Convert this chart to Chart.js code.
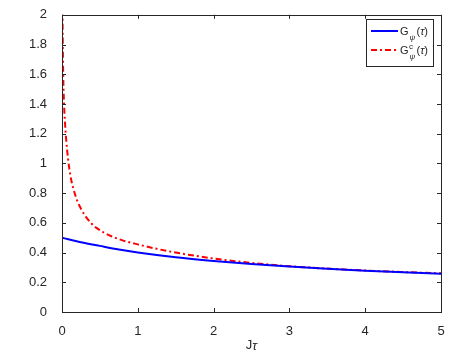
<!DOCTYPE html>
<html>
<head>
<meta charset="utf-8">
<script src="https://cdn.jsdelivr.net/npm/chart.js@4/dist/chart.umd.min.js"></script>
<style>
  body { margin: 0; background: #fff; }
  canvas { display: block; }
</style>
</head>
<body>
<canvas id="chart" width="457" height="359"></canvas>
<script>
// axis ticks
const xTicks = [0, 1, 2, 3, 4, 5];
const yTicks = [0, 0.2, 0.4, 0.6, 0.8, 1, 1.2, 1.4, 1.6, 1.8, 2];

// G_psi(tau) - blue solid
const blueX = [0, 0.25, 0.5, 0.75, 1, 1.5, 2, 2.5, 3, 3.5, 4, 4.5, 5];
const blueY = [0.5, 0.47, 0.445, 0.421, 0.401, 0.369, 0.344, 0.323, 0.306, 0.291, 0.278, 0.267, 0.257];

// G^c_psi(tau) - red dash-dot
const redX = [0.003, 0.006, 0.01, 0.016, 0.027, 0.04, 0.055, 0.08, 0.11, 0.15, 0.2, 0.25, 0.3, 0.38, 0.45, 0.55, 0.65, 0.8, 1, 1.25, 1.5, 2, 2.5, 3, 3.5, 4, 4.5, 5];
const redY = [2.6, 2.1, 1.82, 1.6, 1.4, 1.27, 1.16, 1.03, 0.92, 0.83, 0.75, 0.695, 0.652, 0.6, 0.568, 0.535, 0.51, 0.482, 0.455, 0.425, 0.4, 0.36, 0.33, 0.308, 0.292, 0.279, 0.269, 0.26];

const axisColor = '#262626';
const fontFamily = '"Liberation Sans", Arial, sans-serif';

function toPoints(xs, ys) {
  return xs.map((x, i) => ({ x: x, y: ys[i] }));
}

// box around plot with inward ticks, like matlab
const boxPlugin = {
  id: 'box',
  afterDatasetsDraw(chart) {
    const ctx = chart.ctx;
    const a = chart.chartArea;
    const sx = chart.scales.x;
    const sy = chart.scales.y;
    ctx.save();
    ctx.strokeStyle = axisColor;
    ctx.lineWidth = 1;
    ctx.beginPath();
    xTicks.forEach(v => {
      const px = Math.round(sx.getPixelForValue(v)) + 0.5;
      ctx.moveTo(px, a.bottom); ctx.lineTo(px, a.bottom - 4);
      ctx.moveTo(px, a.top); ctx.lineTo(px, a.top + 4);
    });
    yTicks.forEach(v => {
      const py = Math.round(sy.getPixelForValue(v)) + 0.5;
      ctx.moveTo(a.left, py); ctx.lineTo(a.left + 4, py);
      ctx.moveTo(a.right, py); ctx.lineTo(a.right - 4, py);
    });
    ctx.stroke();
    ctx.strokeRect(Math.round(a.left) + 0.5, Math.round(a.top) + 0.5,
      Math.round(a.right - a.left), Math.round(a.bottom - a.top));

    // x axis label
    ctx.fillStyle = axisColor;
    ctx.textBaseline = 'middle';
    ctx.font = '13px ' + fontFamily;
    const cx = (a.left + a.right) / 2;
    const wJ = ctx.measureText('J').width;
    ctx.font = 'italic 13px ' + fontFamily;
    const wT = ctx.measureText('τ').width;
    let lx = cx - (wJ + wT) / 2;
    ctx.font = '13px ' + fontFamily;
    ctx.textAlign = 'left';
    ctx.fillText('J', lx, 345);
    ctx.font = 'italic 13px ' + fontFamily;
    ctx.fillText('τ', lx + wJ, 346);

    // legend
    const lgX = 366, lgY = 19, lgW = 67, lgH = 47;
    ctx.fillStyle = '#fff';
    ctx.fillRect(lgX, lgY, lgW, lgH);
    ctx.strokeStyle = axisColor;
    ctx.strokeRect(lgX + 0.5, lgY + 0.5, lgW, lgH);
    const rows = [
      { ds: chart.data.datasets[0], y: lgY + 12, sup: '' },
      { ds: chart.data.datasets[1], y: lgY + 31, sup: 'c' }
    ];
    rows.forEach(r => {
      ctx.strokeStyle = r.ds.borderColor;
      ctx.lineWidth = 2;
      ctx.setLineDash(r.ds.borderDash || []);
      ctx.beginPath();
      ctx.moveTo(lgX + 5, r.y);
      ctx.lineTo(lgX + 32, r.y);
      ctx.stroke();
      ctx.setLineDash([]);
      ctx.fillStyle = axisColor;
      ctx.textBaseline = 'alphabetic';
      let tx = lgX + 34;
      ctx.font = '11px ' + fontFamily;
      ctx.fillText('G', tx, r.y + 4);
      tx += ctx.measureText('G').width;
      if (r.sup) {
        ctx.font = '8px ' + fontFamily;
        ctx.fillText(r.sup, tx + 0.5, r.y - 1);
      }
      ctx.font = 'italic 8px ' + fontFamily;
      ctx.fillText('ψ', tx + 1, r.y + 9);
      tx += 8;
      ctx.font = '11px ' + fontFamily;
      ctx.fillText('(', tx, r.y + 4);
      tx += ctx.measureText('(').width;
      ctx.font = 'italic 11px ' + fontFamily;
      ctx.fillText('τ', tx, r.y + 4);
      tx += ctx.measureText('τ').width;
      ctx.font = '11px ' + fontFamily;
      ctx.fillText(')', tx, r.y + 4);
    });
    ctx.restore();
  }
};

const ctx = document.getElementById('chart').getContext('2d');
const chart = new Chart(ctx, {
  type: 'line',
  data: {
    datasets: [{
      label: 'G_ψ(τ)',
      data: toPoints(blueX, blueY),
      borderColor: '#0000ff',
      borderWidth: 2,
      pointRadius: 0,
      fill: false,
      cubicInterpolationMode: 'monotone'
    }, {
      label: 'G^c_ψ(τ)',
      data: toPoints(redX, redY),
      borderColor: '#ff0000',
      borderWidth: 2,
      borderDash: [6, 3, 2, 3],
      pointRadius: 0,
      fill: false,
      cubicInterpolationMode: 'monotone'
    }]
  },
  options: {
    responsive: false,
    animation: false,
    devicePixelRatio: 1,
    layout: { padding: { top: 12, right: 16, left: 0, bottom: 0 } },
    plugins: {
      legend: { display: false },
      tooltip: { enabled: false }
    },
    scales: {
      x: {
        type: 'linear',
        min: 0,
        max: 5,
        afterBuildTicks: s => { s.ticks = xTicks.map(v => ({ value: v })); },
        afterFit: s => { s.height = 47; },
        grid: { display: false },
        border: { display: false },
        ticks: {
          color: axisColor,
          padding: 4,
          maxRotation: 0,
          font: { family: fontFamily, size: 13 }
        }
      },
      y: {
        type: 'linear',
        min: 0,
        max: 2,
        afterBuildTicks: s => { s.ticks = yTicks.map(v => ({ value: v })); },
        afterFit: s => { s.width = 62; },
        grid: { display: false },
        border: { display: false },
        ticks: {
          color: axisColor,
          padding: 7,
          font: { family: fontFamily, size: 13 },
          callback: v => String(Math.round(v * 10) / 10)
        }
      }
    }
  },
  plugins: [boxPlugin]
});
</script>
</body>
</html>
